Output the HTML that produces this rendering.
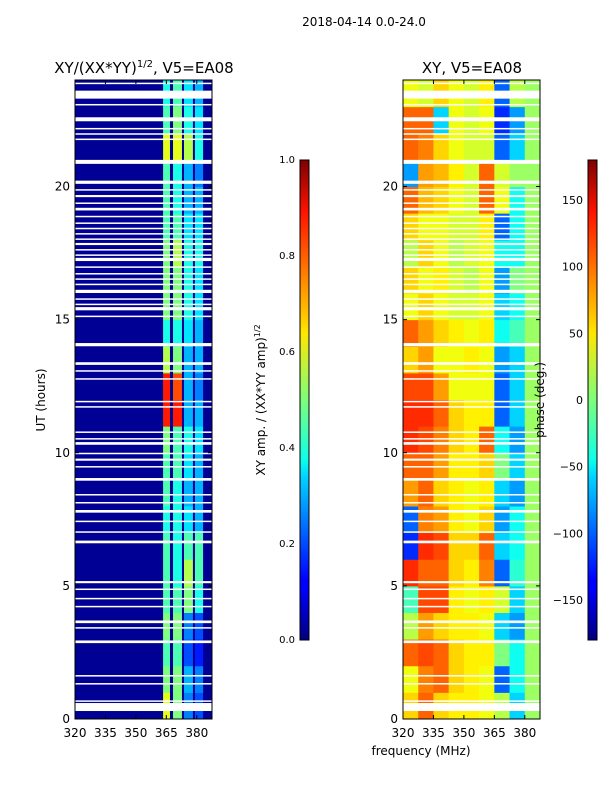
<!DOCTYPE html>
<html><head><meta charset="utf-8">
<style>
body{margin:0;background:#fff;}
svg{display:block;font-family:"DejaVu Sans","Liberation Sans",sans-serif;}
</style></head>
<body>
<svg id="fig" width="600" height="800" xmlns="http://www.w3.org/2000/svg">
<defs>
<linearGradient id="jet" x1="0" y1="1" x2="0" y2="0">
<stop offset="0" stop-color="#00007f"/><stop offset="0.11" stop-color="#0000ff"/>
<stop offset="0.125" stop-color="#0000ff"/><stop offset="0.34" stop-color="#00d4ff"/>
<stop offset="0.375" stop-color="#0dffea"/><stop offset="0.5" stop-color="#7dff7a"/>
<stop offset="0.64" stop-color="#ffe600"/><stop offset="0.66" stop-color="#ffd300"/>
<stop offset="0.89" stop-color="#ff1400"/><stop offset="1" stop-color="#7f0000"/>
</linearGradient>
</defs>
<text x="364" y="26" font-size="12" text-anchor="middle">2018-04-14 0.0-24.0</text>
<text x="144" y="73" font-size="15" text-anchor="middle">XY/(XX*YY)<tspan font-size="10" dy="-6">1/2</tspan><tspan dy="6">, V5=EA08</tspan></text>
<text x="472" y="73" font-size="15" text-anchor="middle">XY, V5=EA08</text>
<g id="leftHeat"></g>
<g id="rightHeat"></g>
<g id="axes"></g>
<rect x="300" y="160" width="9" height="480" fill="url(#jet)" stroke="#000" stroke-width="1"/>
<rect x="588" y="160" width="9" height="480" fill="url(#jet)" stroke="#000" stroke-width="1"/>
<text transform="translate(265,400) rotate(-90)" font-size="12" text-anchor="middle">XY amp. / (XX*YY amp)<tspan font-size="8" dy="-5">1/2</tspan></text>
<text transform="translate(544,400) rotate(-90)" font-size="12" text-anchor="middle">phase (deg.)</text>
<text x="421" y="755" font-size="12" text-anchor="middle">frequency (MHz)</text>
<text transform="translate(45,400) rotate(-90)" font-size="12" text-anchor="middle">UT (hours)</text>
</svg>
<script>
const hours=[0,1,2,3,4,5,6,7,8,9,10,11,12,13,14,15,16,17,18,19,20,21,22,23];
const bandStart=[363.4,368.3,373.7,379.1];
const bandEnd=[366.8,372.7,378.1,383.1];
const ampBackground=0.02;
const ampGrid=[
[0.6,0.5,0.25,0.2],[0.5,0.5,0.3,0.25],[0.45,0.45,0.2,0.15],[0.5,0.5,0.25,0.2],
[0.45,0.45,0.5,0.4],[0.45,0.4,0.55,0.45],[0.45,0.4,0.45,0.45],[0.4,0.4,0.35,0.3],
[0.45,0.4,0.3,0.3],[0.45,0.45,0.35,0.3],[0.5,0.45,0.4,0.35],[0.85,0.85,0.3,0.3],
[0.85,0.8,0.3,0.25],[0.55,0.5,0.3,0.3],[0.4,0.4,0.35,0.3],[0.5,0.5,0.4,0.35],
[0.5,0.5,0.4,0.35],[0.5,0.55,0.4,0.4],[0.45,0.45,0.35,0.35],[0.45,0.4,0.3,0.3],
[0.45,0.4,0.3,0.25],[0.6,0.6,0.55,0.4],[0.45,0.5,0.4,0.35],[0.4,0.45,0.35,0.3]];
const phaseFreqStart=[320,327.5,335,342.5,350,357.5,365,372.5,380];
const phaseGrid=[
[60,100,60,50,50,40,20,-60,10],[40,90,100,60,50,40,-100,-40,10],[100,110,100,60,50,50,0,-40,10],
[20,80,60,50,50,40,-60,-80,10],[-20,110,110,50,40,50,30,-60,10],[120,100,100,60,50,90,-100,-30,10],
[-120,120,110,60,60,100,-60,-40,10],[-100,90,80,50,40,60,-80,-40,10],[80,100,60,50,40,50,-60,-80,10],
[100,100,80,50,50,60,0,-60,10],[120,110,90,60,50,100,-40,-80,10],[120,120,100,60,50,50,-100,-60,10],
[110,110,80,40,40,40,-100,-60,10],[60,80,40,40,50,40,-80,-60,10],[100,80,60,50,40,50,-40,-20,10],
[40,60,40,30,30,40,-60,-40,10],[60,40,50,30,20,40,-80,0,10],[20,60,40,20,30,40,-40,-40,10],
[60,40,40,30,30,50,-100,-40,10],[100,70,60,40,30,100,40,-40,10],[-80,80,70,50,30,100,30,10,10],
[100,90,60,40,30,30,-100,-60,10],[100,100,-60,40,30,40,-120,-80,10],[40,30,60,40,30,50,-100,20,10]];
const gapStart=[23.3,23.85,23.05,22.45,22.15,21.95,21.75,20.85,20.1,19.85,19.6,19.35,19.1,18.85,18.6,18.4,18.2,18.0,17.8,17.6,17.4,17.2,16.95,16.7,16.5,16.3,16.0,15.75,15.55,15.35,15.1,14.0,13.3,13.05,12.75,11.9,11.7,10.75,10.5,10.3,9.95,9.7,9.45,8.95,8.4,8.1,7.75,7.4,7.0,6.6,5.1,4.85,4.5,4.2,3.6,3.4,2.85,1.6,1.3,0.65,0.3];
const gapLen=[0.3,0.05,0.05,0.15,0.05,0.05,0.05,0.15,0.12,0.05,0.08,0.05,0.1,0.05,0.05,0.05,0.05,0.05,0.08,0.05,0.05,0.12,0.05,0.05,0.05,0.05,0.12,0.05,0.05,0.12,0.05,0.12,0.1,0.05,0.05,0.05,0.05,0.05,0.05,0.1,0.05,0.08,0.05,0.1,0.05,0.05,0.1,0.05,0.05,0.1,0.08,0.05,0.05,0.05,0.1,0.05,0.1,0.05,0.05,0.05,0.3];
const xTicks=[320,335,350,365,380];
const yTicks=[0,5,10,15,20];
const cb1Ticks=[0.0,0.2,0.4,0.6,0.8,1.0];
const cb2Ticks=[-150,-100,-50,0,50,100,150];

const NS="http://www.w3.org/2000/svg";
const PT=80,PB=719,FMIN=320,FMAX=387.5,TMAX=24;
const panels=[{x0:75,x1:212,g:'leftHeat'},{x0:403,x1:540,g:'rightHeat'}];
function yS(h){return PB-(h/TMAX)*(PB-PT);}
function xS(p,f){return p.x0+(f-FMIN)/(FMAX-FMIN)*(p.x1-p.x0);}
function jet(v){v=Math.max(0,Math.min(1,v));
 const c=t=>Math.round(255*Math.max(0,Math.min(1,t)));
 const r=c(Math.min(4*v-1.5,-4*v+4.5)),g=c(Math.min(4*v-0.5,-4*v+3.5)),b=c(Math.min(4*v+0.5,-4*v+2.5));
 return `rgb(${r},${g},${b})`;}
function mk(tag,attrs,parent){const e=document.createElementNS(NS,tag);for(const k in attrs)e.setAttribute(k,attrs[k]);parent.appendChild(e);return e;}

const L=panels[0],lg=document.getElementById(L.g);
let bg=mk('rect',{x:L.x0,y:PT,width:L.x1-L.x0,height:PB-PT,fill:jet(ampBackground)},lg);


hours.forEach((h,i)=>{ampGrid[i].forEach((v,j)=>{
 const r=mk('rect',{x:xS(L,bandStart[j]),y:yS(h+1),width:xS(L,bandEnd[j])-xS(L,bandStart[j]),height:yS(h)-yS(h+1)+0.5,fill:jet(v)},lg);
 
 
});});
const R=panels[1],rg=document.getElementById(R.g);
hours.forEach((h,i)=>{phaseGrid[i].forEach((v,j)=>{
 const f0=phaseFreqStart[j],f1=j+1<phaseFreqStart.length?phaseFreqStart[j+1]:FMAX;
 const r=mk('rect',{x:xS(R,f0),y:yS(h+1),width:xS(R,f1)-xS(R,f0)+0.5,height:yS(h)-yS(h+1)+0.5,fill:jet((v+180)/360)},rg);
 
 
});});
panels.forEach(p=>{const g=document.getElementById(p.g);
 gapStart.forEach((s,k)=>{const r=mk('rect',{x:p.x0,y:yS(s+gapLen[k]),width:p.x1-p.x0,height:Math.max(1.5,yS(s)-yS(s+gapLen[k])),fill:'#fff'},g);
 
 });});
const ax=document.getElementById('axes');
panels.forEach((p,pi)=>{
 const f=mk('rect',{x:p.x0,y:PT,width:p.x1-p.x0,height:PB-PT,fill:'none',stroke:'#000','stroke-width':1},ax);
 
 
 xTicks.forEach(t=>{const x=xS(p,t);
  mk('line',{x1:x,x2:x,y1:PB,y2:PB-4,stroke:'#000'},ax);mk('line',{x1:x,x2:x,y1:PT,y2:PT+4,stroke:'#000'},ax);
  const tx=mk('text',{x:x,y:PB+18,'font-size':12,'text-anchor':'middle'},ax);tx.textContent=t;
  
  });
 yTicks.forEach(t=>{const y=yS(t);
  mk('line',{x1:p.x0,x2:p.x0+4,y1:y,y2:y,stroke:'#000'},ax);mk('line',{x1:p.x1,x2:p.x1-4,y1:y,y2:y,stroke:'#000'},ax);
  const tx=mk('text',{x:p.x0-5,y:y+4,'font-size':12,'text-anchor':'end'},ax);tx.textContent=t;
  
  });
});
cb1Ticks.forEach(t=>{const y=640-t*480;
 mk('line',{x1:300,x2:303,y1:y,y2:y,stroke:'#000'},ax);mk('line',{x1:309,x2:306,y1:y,y2:y,stroke:'#000'},ax);
 const tx=mk('text',{x:295,y:y+3,'font-size':10,'text-anchor':'end'},ax);tx.textContent=t.toFixed(1);
 
 });
cb2Ticks.forEach(t=>{const y=640-(t+180)/360*480;
 mk('line',{x1:588,x2:591,y1:y,y2:y,stroke:'#000'},ax);mk('line',{x1:597,x2:594,y1:y,y2:y,stroke:'#000'},ax);
 const tx=mk('text',{x:583,y:y+4,'font-size':11,'text-anchor':'end'},ax);tx.textContent=t<0?'\u2212'+(-t):t;
 
 });
</script>
</body></html>
